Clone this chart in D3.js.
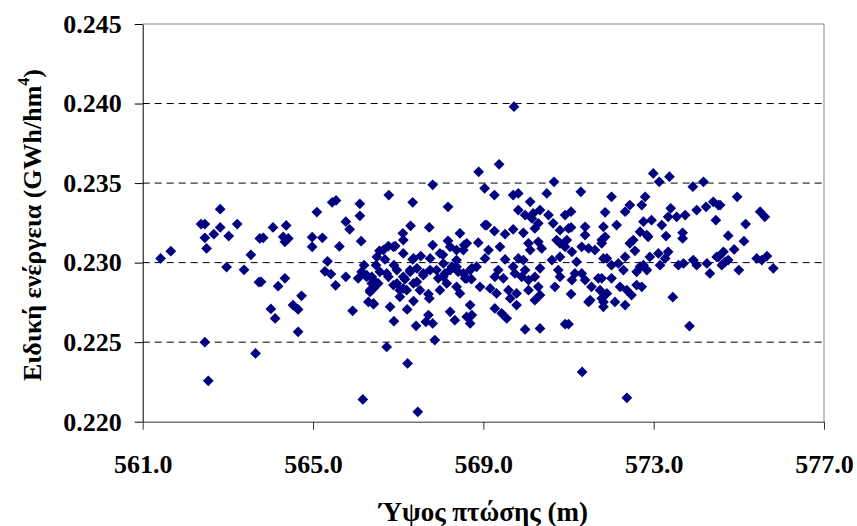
<!DOCTYPE html>
<html>
<head>
<meta charset="utf-8">
<script src="https://cdn.jsdelivr.net/npm/d3@7"></script>
<style>
  body { margin: 0; background: #fff; }
  svg { display: block; font-family: "Liberation Serif", "Times New Roman", serif; }
  .tick text { font-weight: bold; font-size: 26px; fill: #000; font-family: "Liberation Serif", "Times New Roman", serif; }
</style>
</head>
<body>
<script>

// fall height (m)
var heights = [
  561.42, 561.66, 562.37, 562.46, 562.82, 562.82, 562.67, 562.46, 563.02, 563.22,
  562.50, 563.54, 562.97, 563.38, 563.75, 563.73, 562.46, 562.54, 563.65, 563.83,
  564.06, 564.37, 564.30, 564.42, 564.34, 565.09, 565.45, 565.54, 564.98, 564.98,
  565.22, 565.62, 565.77, 565.86, 566.10, 566.10, 566.13, 563.78, 564.34, 564.18,
  564.73, 564.01, 564.11, 564.53, 564.65, 564.65, 565.34, 565.28, 565.42, 565.53,
  565.77, 565.93, 566.17, 566.20, 566.06, 566.26, 566.38, 566.14, 566.34, 566.30,
  566.42, 568.89, 567.81, 569.03, 566.78, 567.34, 568.17, 567.29, 567.73, 567.11,
  567.12, 568.45, 568.17, 569.04, 566.56, 566.77, 566.93, 567.81, 568.05, 568.55,
  568.37, 568.88, 566.69, 566.48, 566.90, 567.34, 567.53, 567.75, 566.38, 566.53,
  566.42, 566.73, 566.97, 567.12, 567.28, 567.44, 567.59, 567.36, 567.12, 566.89,
  567.90, 568.06, 568.22, 568.37, 568.53, 568.69, 568.84, 568.14, 568.37, 568.61,
  568.72, 568.92, 567.98, 568.45, 567.04, 567.20, 566.42, 566.81, 566.90, 567.21,
  567.36, 567.71, 567.73, 567.42, 567.71, 567.65, 567.81, 568.22, 568.33, 568.69,
  568.61, 568.73, 568.69, 567.86, 566.73, 567.22, 567.46, 570.66, 571.29, 569.26,
  569.70, 569.82, 570.49, 570.10, 569.82, 569.98, 570.17, 570.33, 570.14, 570.53,
  570.92, 571.06, 571.86, 569.08, 569.26, 569.51, 569.70, 569.94, 570.21, 570.29,
  570.64, 570.80, 571.00, 571.06, 571.39, 571.39, 570.06, 570.29, 570.37, 570.10,
  570.72, 570.80, 570.96, 570.92, 569.39, 569.12, 569.04, 571.31, 571.47, 571.62,
  571.78, 569.51, 569.82, 569.94, 570.61, 570.80, 571.08, 571.19, 571.82, 569.35,
  569.27, 569.47, 569.70, 569.74, 569.90, 570.06, 569.98, 570.33, 570.21, 570.76,
  570.80, 570.68, 571.08, 571.15, 571.31, 571.39, 571.54, 571.70, 569.16, 569.31,
  569.59, 569.63, 569.78, 570.06, 570.21, 570.29, 570.33, 571.06, 571.47, 571.51,
  571.78, 571.82, 569.78, 569.27, 569.43, 569.55, 569.98, 570.33, 570.92, 571.00,
  571.32, 572.99, 573.13, 573.37, 573.92, 574.17, 572.01, 572.80, 572.44, 572.33,
  572.72, 573.40, 573.34, 573.54, 573.74, 574.01, 574.23, 574.40, 574.52, 574.46,
  572.76, 572.95, 573.19, 571.82, 572.13, 571.86, 571.78, 572.68, 572.84, 572.52,
  572.44, 572.87, 573.29, 573.68, 573.68, 572.56, 571.90, 572.01, 572.17, 572.33,
  572.29, 572.91, 573.11, 573.34, 573.27, 573.15, 572.68, 572.84, 572.60, 572.76,
  573.58, 573.70, 573.93, 574.01, 574.25, 574.32, 574.48, 572.01, 571.78, 571.74,
  571.90, 571.82, 572.09, 572.21, 572.37, 572.48, 572.33, 572.60, 572.72, 573.45,
  573.84, 572.37, 574.96, 574.56, 575.50, 575.61, 575.16, 574.75, 575.12, 574.89,
  574.64, 574.52, 574.68, 574.60, 574.75, 575.00, 575.42, 575.54, 575.66, 575.81,
  569.72, 569.37, 566.26, 566.42, 566.57, 566.77, 566.97, 567.16, 567.28, 567.44,
  567.59, 567.75, 567.94, 568.10, 568.26, 568.41, 568.57, 568.73, 566.34, 567.04,
  567.51, 568.06, 568.37, 568.53, 568.61, 568.22, 567.98, 567.36, 567.12, 566.89,
  566.65, 566.50
];

// specific energy (GWh/hm4), same order as heights
var energies = [
  0.23026, 0.23072, 0.23242, 0.23242, 0.23336, 0.23221, 0.23179, 0.23156, 0.23167, 0.23242,
  0.23089, 0.23049, 0.22972, 0.22955, 0.23152, 0.22877, 0.22500, 0.22257, 0.22429, 0.23156,
  0.23221, 0.23234, 0.23162, 0.23152, 0.23131, 0.23318, 0.23379, 0.23391, 0.23160, 0.23099,
  0.23156, 0.23102, 0.23257, 0.23209, 0.23370, 0.23294, 0.23135, 0.22879, 0.22901, 0.22852,
  0.22791, 0.22709, 0.22649, 0.22733, 0.22706, 0.22565, 0.23008, 0.22945, 0.22928, 0.22857,
  0.22911, 0.22697, 0.22140, 0.22984, 0.22901, 0.22911, 0.22869, 0.22942, 0.22827, 0.22753,
  0.22743, 0.23571, 0.23489, 0.23467, 0.23425, 0.23379, 0.23351, 0.23231, 0.23221, 0.23184,
  0.23142, 0.23184, 0.23137, 0.23236, 0.23074, 0.23104, 0.23104, 0.23110, 0.23049, 0.23110,
  0.23079, 0.23125, 0.23020, 0.22984, 0.22984, 0.23020, 0.23041, 0.23026, 0.22911, 0.22869,
  0.22838, 0.22932, 0.22953, 0.22911, 0.22953, 0.22964, 0.22932, 0.22869, 0.22838, 0.22859,
  0.22953, 0.22911, 0.22953, 0.22974, 0.22932, 0.22953, 0.22974, 0.22869, 0.22848, 0.22901,
  0.22896, 0.22848, 0.22827, 0.22806, 0.22785, 0.22827, 0.22739, 0.22722, 0.22632, 0.22706,
  0.22758, 0.22802, 0.22775, 0.22603, 0.22670, 0.22628, 0.22618, 0.22691, 0.22638, 0.22733,
  0.22659, 0.22670, 0.22618, 0.22513, 0.22470, 0.22366, 0.22062, 0.23508, 0.23445, 0.23425,
  0.23425, 0.23435, 0.23435, 0.23382, 0.23330, 0.23299, 0.23309, 0.23330, 0.23278, 0.23299,
  0.23299, 0.23320, 0.23316, 0.23236, 0.23198, 0.23179, 0.23209, 0.23187, 0.23215, 0.23247,
  0.23247, 0.23204, 0.23215, 0.23221, 0.23225, 0.23173, 0.23121, 0.23131, 0.23089, 0.23079,
  0.23142, 0.23121, 0.23142, 0.23099, 0.23099, 0.23079, 0.23026, 0.23099, 0.23089, 0.23079,
  0.23142, 0.23020, 0.23026, 0.23016, 0.23016, 0.23036, 0.23068, 0.23005, 0.23026, 0.22953,
  0.22911, 0.22901, 0.22974, 0.22932, 0.22911, 0.22890, 0.22953, 0.22964, 0.22911, 0.22953,
  0.22911, 0.22848, 0.22890, 0.22932, 0.22932, 0.22890, 0.22848, 0.22901, 0.22838, 0.22806,
  0.22827, 0.22775, 0.22806, 0.22827, 0.22764, 0.22848, 0.22796, 0.22802, 0.22753, 0.22764,
  0.22775, 0.22722, 0.22733, 0.22712, 0.22681, 0.22649, 0.22580, 0.22586, 0.22613, 0.22613,
  0.22313, 0.23561, 0.23508, 0.23540, 0.23477, 0.23508, 0.23414, 0.23414, 0.23362, 0.23320,
  0.23362, 0.23341, 0.23288, 0.23288, 0.23299, 0.23330, 0.23351, 0.23382, 0.23362, 0.23267,
  0.23257, 0.23267, 0.23236, 0.23225, 0.23236, 0.23162, 0.23121, 0.23194, 0.23173, 0.23142,
  0.23121, 0.23162, 0.23167, 0.23187, 0.23152, 0.23074, 0.23026, 0.22984, 0.22995, 0.23036,
  0.22953, 0.23036, 0.23058, 0.23068, 0.23026, 0.22984, 0.22974, 0.22953, 0.22942, 0.22984,
  0.22984, 0.22995, 0.23016, 0.22984, 0.22995, 0.22932, 0.23036, 0.22901, 0.22901, 0.22827,
  0.22806, 0.22753, 0.22753, 0.22848, 0.22827, 0.22796, 0.22733, 0.22859, 0.22848, 0.22783,
  0.22601, 0.22150, 0.23414, 0.23362, 0.23320, 0.23288, 0.23242, 0.23169, 0.23135, 0.23083,
  0.23068, 0.23036, 0.23005, 0.22984, 0.23016, 0.22953, 0.23026, 0.23016, 0.23041, 0.22964,
  0.23980, 0.23618, 0.22921, 0.22890, 0.22942, 0.22911, 0.22869, 0.22896, 0.22942, 0.22879,
  0.22921, 0.22953, 0.22901, 0.22932, 0.22974, 0.22942, 0.22901, 0.22964, 0.22816, 0.22827,
  0.22827, 0.22995, 0.23016, 0.23079, 0.23121, 0.23099, 0.23058, 0.23026, 0.23058, 0.23099,
  0.23079, 0.23036
];

var xTicks = [561, 565, 569, 573, 577];
var yTicks = [0.220, 0.225, 0.230, 0.235, 0.240, 0.245];
var gridValues = [0.225, 0.230, 0.235, 0.240];

var xTitle = "Ύψος πτώσης (m)";
var yTitle = "Ειδική ενέργεια (GWh/hm";

var width = 857, height = 526;
var plot = {left: 142.7, right: 824, top: 24, bottom: 421.7};

var svg = d3.select("body").append("svg")
    .attr("width", width)
    .attr("height", height);

svg.append("rect").attr("width", width).attr("height", height).attr("fill", "#fff");

var x = d3.scaleLinear().domain([561, 577]).range([plot.left, plot.right]);
var y = d3.scaleLinear().domain([0.220, 0.245]).range([plot.bottom, plot.top]);

// dashed gridlines
svg.append("g").selectAll("line")
    .data(gridValues)
    .enter().append("line")
    .attr("x1", plot.left).attr("x2", plot.right)
    .attr("y1", d => y(d)).attr("y2", d => y(d))
    .attr("stroke", "#000")
    .attr("stroke-dasharray", "7,5");

// top and right frame (grey)
svg.append("line")
    .attr("x1", plot.left).attr("x2", plot.right)
    .attr("y1", y(0.245)).attr("y2", y(0.245))
    .attr("stroke", "#888");
svg.append("line")
    .attr("x1", plot.right).attr("x2", plot.right)
    .attr("y1", plot.top).attr("y2", plot.bottom)
    .attr("stroke", "#888");

// axes
var yAxis = svg.append("g")
    .attr("transform", `translate(${plot.left},0)`)
    .call(d3.axisLeft(y).tickValues(yTicks).tickFormat(d3.format(".3f")).tickSize(8).tickSizeOuter(0).tickPadding(13));
yAxis.attr("font-family", null).attr("font-size", null);
yAxis.selectAll("path, line").attr("stroke", "#000");

var xAxis = svg.append("g")
    .attr("transform", `translate(0,${plot.bottom})`)
    .call(d3.axisBottom(x).tickValues(xTicks).tickFormat(d3.format(".1f")).tickSize(8).tickSizeOuter(0).tickPadding(25));
xAxis.attr("font-family", null).attr("font-size", null);
xAxis.selectAll("path, line").attr("stroke", "#333");

// points
var points = heights.map((h, i) => ({h: h, e: energies[i]}));

svg.append("g").selectAll("path")
    .data(points)
    .enter().append("path")
    .attr("d", d3.symbol(d3.symbolSquare, 58))
    .attr("transform", d => `translate(${x(d.h)},${y(d.e)}) rotate(45)`)
    .attr("fill", "#000080");

// axis titles
svg.append("text")
    .attr("x", (plot.left + plot.right) / 2)
    .attr("y", 521)
    .attr("text-anchor", "middle")
    .attr("font-weight", "bold")
    .attr("font-size", 27)
    .text(xTitle);

var yt = svg.append("text")
    .attr("transform", "translate(41,225) rotate(-90)")
    .attr("text-anchor", "middle")
    .attr("font-weight", "bold")
    .attr("font-size", 26);
yt.append("tspan").text(yTitle);
yt.append("tspan").attr("font-size", 16).attr("dy", -12).text("4");
yt.append("tspan").attr("dy", 12).text(")");

</script>
</body>
</html>
